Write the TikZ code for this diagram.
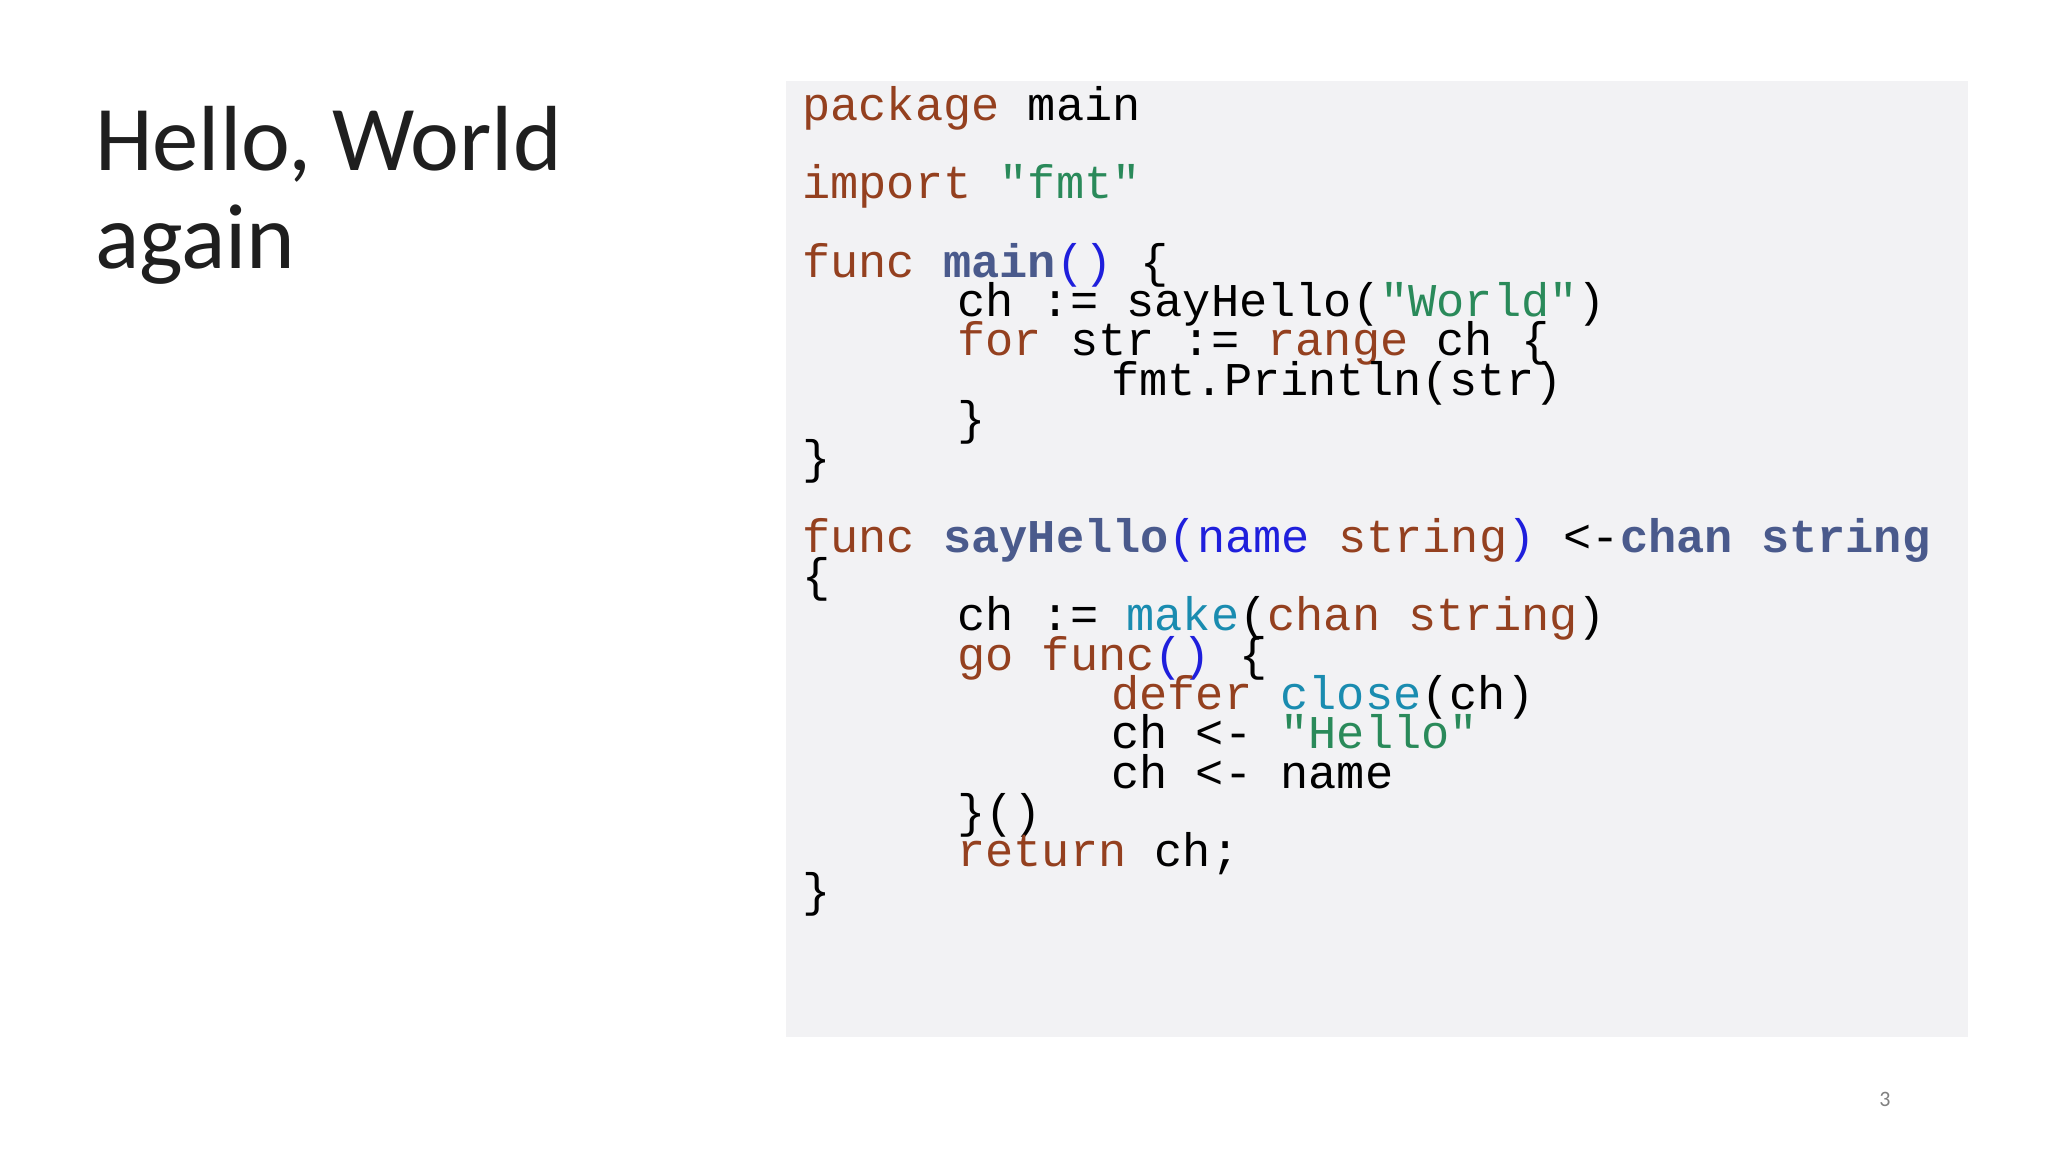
\documentclass[tikz,border=0pt]{standalone}
\usepackage{fontspec}
\setmonofont{Liberation Mono}
\newfontfamily\titlefont{Carlito}
\definecolor{kw}{HTML}{94401F}
\definecolor{st}{HTML}{2A8A5A}
\definecolor{fn}{HTML}{4A5A8C}
\definecolor{pb}{HTML}{1F1FDC}
\definecolor{bi}{HTML}{1A8CB0}
\definecolor{boxbg}{HTML}{F2F2F4}
\newcommand{\K}[1]{\textcolor{kw}{#1}}
\newcommand{\Sg}[1]{\textcolor{st}{#1}}
\newcommand{\F}[1]{\textcolor{fn}{\bfseries #1}}
\newcommand{\PB}[1]{\textcolor{pb}{#1}}
\newcommand{\B}[1]{\textcolor{bi}{#1}}
\begin{document}
\begin{tikzpicture}[x=1pt,y=-1pt,
  code/.style={anchor=base west,inner sep=0pt,font=\ttfamily\fontsize{47}{47}\selectfont},
  ttl/.style={anchor=base west,inner sep=0pt,text=black!88,font=\titlefont\fontsize{92.5}{92.5}\selectfont}]
\fill[white] (0,0) rectangle (2048,1152);
\useasboundingbox (0,0) rectangle (2048,1152);
\fill[boxbg] (786,81) rectangle (1968,1037);
\node[ttl] (t1) at (95,170) {Hello, World};
\node[ttl] (t2) at (95,268) {again};
\node[anchor=base,inner sep=0pt,text=gray,font=\titlefont\fontsize{22}{22}\selectfont] (pg) at (1885,1106) {3};
\def\xa{802}\def\xb{957}\def\xc{1111}\def\d{39.3}
\node[code] (l0) at (\xa,120) {\K{package} main};
\node[code] (l2) at (\xa,120+2*\d) {\K{import} \Sg{"fmt"}};
\node[code] (l4) at (\xa,120+4*\d) {\K{func} \F{main}\PB{()} \{};
\node[code] (l5) at (\xb,120+5*\d) {ch := sayHello(\Sg{"World"})};
\node[code] (l6) at (\xb,120+6*\d) {\K{for} str := \K{range} ch \{};
\node[code] (l7) at (\xc,120+7*\d) {fmt.Println(str)};
\node[code] (l8) at (\xb,120+8*\d) {\}};
\node[code] (l9) at (\xa,120+9*\d) {\}};
\node[code] (l11) at (\xa,120+11*\d) {\K{func} \F{sayHello}\PB{(name} \K{string}\PB{)} <-\F{chan} \F{string}};
\node[code] (l12) at (\xa,120+12*\d) {\{};
\node[code] (l13) at (\xb,120+13*\d) {ch := \B{make}(\K{chan} \K{string})};
\node[code] (l14) at (\xb,120+14*\d) {\K{go} \K{func}\PB{()} \{};
\node[code] (l15) at (\xc,120+15*\d) {\K{defer} \B{close}(ch)};
\node[code] (l16) at (\xc,120+16*\d) {ch <- \Sg{"Hello"}};
\node[code] (l17) at (\xc,120+17*\d) {ch <- name};
\node[code] (l18) at (\xb,120+18*\d) {\}()};
\node[code] (l19) at (\xb,120+19*\d) {\K{return} ch;};
\node[code] (l20) at (\xa,120+20*\d) {\}};
\end{tikzpicture}
\end{document}
